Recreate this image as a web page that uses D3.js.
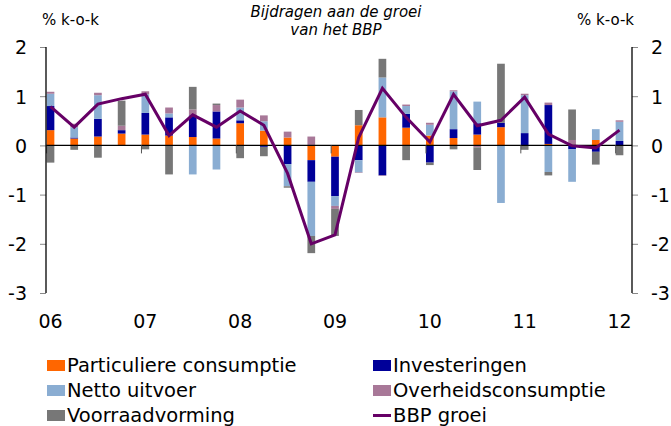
<!DOCTYPE html>
<html>
<head>
<meta charset="utf-8">
<script src="https://cdn.jsdelivr.net/npm/d3@7"></script>
<style>
  body { margin: 0; background: #fff; }
  svg text { font-family: "DejaVu Sans", Verdana, sans-serif; fill: #000; }
</style>
</head>
<body>
<svg id="chart"></svg>
<script>
// Quarters 2006Q1 .. 2012Q1
var QUARTERS = d3.range(25);
var YEAR_LABELS = ["06", "07", "08", "09", "10", "11", "12"];

var SERIES = ["Particuliere consumptie", "Investeringen", "Netto uitvoer", "Overheidsconsumptie", "Voorraadvorming"];
var COLORS = ["#ff6600", "#000099", "#8aadd2", "#a87898", "#777777"];
var LINE_COLOR = "#660066";

var particuliere = [0.31, 0.14, 0.18, 0.24, 0.22, 0.20, 0.17, 0.14, 0.45, 0.30, 0.16, -0.30, -0.23, 0.41, 0.57, 0.36, 0.20, 0.15, 0.22, 0.37, 0, 0.03, 0, 0.11, 0];
var investeringen = [0.49, 0.02, 0.36, 0.07, 0.44, 0.37, 0.44, 0.55, 0.06, -0.03, -0.38, -0.44, -0.80, -0.30, -0.61, 0.28, -0.35, 0.18, 0.23, 0.09, 0.25, 0.79, -0.08, -0.13, 0.09];
var netto_uitvoer = [0.25, 0.21, 0.48, 0, 0.38, 0.08, -0.59, -0.49, 0.26, 0.19, -0.45, -1.10, -0.20, -0.25, 0.81, 0.16, 0.22, 0.77, 0.44, -1.17, 0.77, -0.54, -0.66, 0.22, 0.39];
var overheid = [0.04, 0.07, 0.05, 0.09, 0.06, 0.12, 0.12, 0.13, 0.16, 0.12, 0.12, 0.18, -0.06, -0.01, -0.01, 0.03, 0.04, 0.02, -0.04, 0, 0.03, 0.05, 0.11, 0, 0.03];
var voorraad = [-0.35, -0.09, -0.25, 0.51, -0.08, -0.59, 0.46, 0.03, -0.26, -0.19, -0.03, -0.35, -0.55, 0.31, 0.38, -0.30, -0.05, -0.08, -0.46, 1.20, -0.09, -0.07, 0.62, -0.26, -0.20];
var bbp_groei = [0.79, 0.37, 0.84, 0.95, 1.04, 0.20, 0.62, 0.37, 0.70, 0.41, -0.57, -2.00, -1.82, 0.16, 1.16, 0.57, 0.07, 1.04, 0.40, 0.51, 0.98, 0.23, -0.01, -0.05, 0.31];

var Y_TICKS = [2, 1, 0, -1, -2, -3];

var W = 671, H = 426;
var plotL = 46, plotR = 632, plotT = 47, plotB = 293;
var barW = 7.7;

var svg = d3.select("#chart").attr("width", W).attr("height", H);

var x = d3.scaleLinear().domain([0, 24]).range([50.5, 619.5]);
var y = d3.scaleLinear().domain([-3, 2]).range([plotB, plotT]);

// build table for stacking
var cols = [particuliere, investeringen, netto_uitvoer, overheid, voorraad];
var table = QUARTERS.map(function(q) {
    var row = {q: q};
    SERIES.forEach(function(s, k) { row[s] = cols[k][q]; });
    return row;
});
var stacked = d3.stack().keys(SERIES).offset(d3.stackOffsetDiverging)(table);

var bars = svg.append("g");
stacked.forEach(function(layer, k) {
    bars.selectAll(".s" + k).data(layer).enter().append("rect")
        .attr("class", "s" + k)
        .attr("x", function(d) { return x(d.data.q) - barW / 2; })
        .attr("width", barW)
        .attr("y", function(d) { return y(Math.max(d[0], d[1])); })
        .attr("height", function(d) { return Math.abs(y(d[0]) - y(d[1])); })
        .attr("fill", COLORS[k]);
});

// zero line + year ticks
svg.append("line").attr("x1", plotL).attr("x2", plotR).attr("y1", y(0)).attr("y2", y(0))
    .attr("stroke", "#000").attr("stroke-width", 1.3);
YEAR_LABELS.forEach(function(lab, i) {
    var xt = x(i * 4) - barW / 2;
    svg.append("line").attr("x1", xt).attr("x2", xt).attr("y1", y(0)).attr("y2", y(0) + 8)
        .attr("stroke", "#555").attr("stroke-width", 1);
    svg.append("text").attr("x", x(i * 4)).attr("y", 328).attr("text-anchor", "middle")
        .attr("font-size", 19).text(lab);
});

// line
svg.append("path").datum(bbp_groei)
    .attr("fill", "none").attr("stroke", LINE_COLOR).attr("stroke-width", 3)
    .attr("stroke-linejoin", "miter")
    .attr("d", d3.line().x(function(d, i) { return x(i); }).y(function(d) { return y(d); }));

// y axes (plain hyphen for negatives, like the original)
var fmt = function(d) { return String(d); };
var axL = d3.axisLeft(y).tickValues(Y_TICKS).tickSize(6).tickPadding(13).tickFormat(fmt);
var axR = d3.axisRight(y).tickValues(Y_TICKS).tickSize(6).tickPadding(13).tickFormat(fmt);
var gL = svg.append("g").attr("transform", "translate(" + plotL + ",0)").call(axL);
var gR = svg.append("g").attr("transform", "translate(" + plotR + ",0)").call(axR);
[gL, gR].forEach(function(g) {
    g.select(".domain").attr("d", null);
    g.selectAll(".tick line").attr("stroke", "#888");
    g.selectAll(".tick text").attr("font-size", 19).attr("font-family", "DejaVu Sans").attr("dy", "0.36em");
});
[plotL, plotR].forEach(function(xx) {
    svg.append("line").attr("x1", xx).attr("x2", xx).attr("y1", plotT).attr("y2", plotB)
        .attr("stroke", "#000").attr("stroke-width", 1.3);
});

// titles
svg.append("text").attr("x", 42).attr("y", 25).attr("font-size", 15).text("% k-o-k");
svg.append("text").attr("x", 634).attr("y", 25).attr("font-size", 15).attr("text-anchor", "end").text("% k-o-k");
svg.append("text").attr("x", 336).attr("y", 17).attr("font-size", 15).attr("font-style", "italic")
    .attr("text-anchor", "middle").text("Bijdragen aan de groei");
svg.append("text").attr("x", 336).attr("y", 35).attr("font-size", 15).attr("font-style", "italic")
    .attr("text-anchor", "middle").text("van het BBP");

// legend
var legendItems = [
    {name: SERIES[0], color: COLORS[0], col: 0, row: 0},
    {name: SERIES[1], color: COLORS[1], col: 1, row: 0},
    {name: SERIES[2], color: COLORS[2], col: 0, row: 1},
    {name: SERIES[3], color: COLORS[3], col: 1, row: 1},
    {name: SERIES[4], color: COLORS[4], col: 0, row: 2},
    {name: "BBP groei", color: LINE_COLOR, col: 1, row: 2, line: true}
];
var colX = [47, 373], rowY = [360, 385, 410];
var lg = svg.append("g").selectAll("g").data(legendItems).enter().append("g")
    .attr("transform", function(d) { return "translate(" + colX[d.col] + "," + rowY[d.row] + ")"; });
lg.each(function(d) {
    var g = d3.select(this);
    if (d.line) {
        g.append("line").attr("x1", 0).attr("x2", 18).attr("y1", 5.5).attr("y2", 5.5)
            .attr("stroke", d.color).attr("stroke-width", 3);
    } else {
        g.append("rect").attr("width", 18).attr("height", 11).attr("fill", d.color);
    }
    g.append("text").attr("x", 20).attr("y", 12).attr("font-size", 19.5).text(d.name);
});
</script>
</body>
</html>
